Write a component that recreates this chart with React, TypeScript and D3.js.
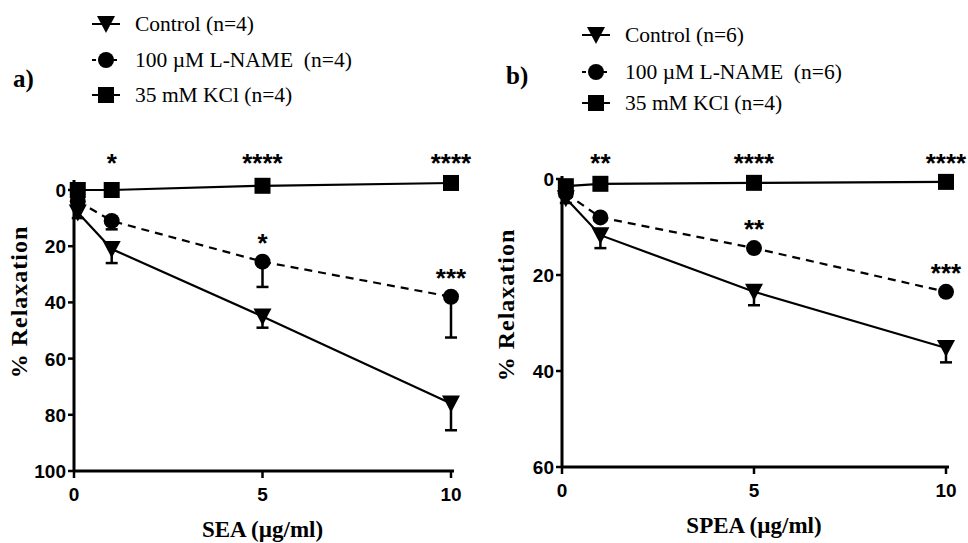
import * as d3 from 'd3';

// doses (µg/ml)
const doses = [0.1, 1, 5, 10];

// panel a - SEA
const seaControl = [8, 21, 45, 76];
const seaControlErr = [2, 5, 4, 9.5];
const seaLName = [4, 11, 25.5, 38];
const seaLNameErr = [2, 3, 9, 14.5];
const seaKcl = [0, 0, -1.5, -2.5];
const seaStarsTop = ['', '*', '****', '****'];
const seaStarsMid = ['', '', '*', '***'];
const seaYTicks = [0, 20, 40, 60, 80, 100];

// panel b - SPEA
const speaControl = [4, 11.7, 23.5, 35.2];
const speaControlErr = [1, 2.7, 2.8, 3];
const speaLName = [3, 8, 14.4, 23.5];
const speaLNameErr = [0.5, 0.5, 0.5, 0.5];
const speaKcl = [1.5, 1, 0.8, 0.6];
const speaStarsTop = ['', '**', '****', '****'];
const speaStarsMid = ['', '', '**', '***'];
const speaYTicks = [0, 20, 40, 60];

const xTicks = [0, 5, 10];
const serif = '"Liberation Serif", "Times New Roman", serif';
const sans = '"Liberation Sans", Arial, sans-serif';

function Marker({ kind, cx, cy }) {
    if (kind === 'square') return <rect x={cx - 8} y={cy - 8} width={16} height={16} fill="#000" />;
    if (kind === 'circle') return <circle cx={cx} cy={cy} r={8} fill="#000" />;
    return <path d={`M${cx - 9},${cy - 8}L${cx + 9},${cy - 8}L${cx},${cy + 9}Z`} fill="#000" />;
}

function Panel({ label, labelX, labelY, legend, left, right, top, bottom, axisOver, yMax, yTicks, control, controlErr, lname, lnameErr, kcl, starsTop, starsMid, starsTopY, xTitle, yTitleX, yTitleY }) {
    const x = d3.scaleLinear([0, 10], [left, right]);
    const y = d3.scaleLinear([0, yMax], [top, bottom]);
    const line = d3.line().x((d) => x(d[0])).y((d) => y(d[1]));

    const series = [
        { vals: control, err: controlErr, kind: 'triangle', dash: null },
        { vals: lname, err: lnameErr, kind: 'circle', dash: '8,6' },
        { vals: kcl, err: null, kind: 'square', dash: null },
    ];

    return (
        <g>
            <text x={labelX} y={labelY} fontFamily={serif} fontWeight="bold" fontSize={25}>{label}</text>
            {legend.map((l, i) => (
                <g key={i}>
                    <line x1={l.mx - 14} x2={l.mx + 14} y1={l.y} y2={l.y} stroke="#000" strokeWidth={2} strokeDasharray={i === 1 ? '4,3' : null} />
                    <Marker kind={series[i].kind} cx={l.mx} cy={l.y} />
                    <text x={l.mx + 29} y={l.y + 7} fontFamily={serif} fontSize={21.5} style={{ whiteSpace: 'pre' }}>{l.text}</text>
                </g>
            ))}

            {/* axes */}
            <line x1={left} x2={left} y1={top - axisOver} y2={bottom} stroke="#000" strokeWidth={3} />
            <line x1={left} x2={right + 3} y1={bottom} y2={bottom} stroke="#000" strokeWidth={3} />
            {yTicks.map((t) => (
                <g key={t}>
                    <line x1={left - 6} x2={left} y1={y(t)} y2={y(t)} stroke="#000" strokeWidth={2.5} />
                    <text x={left - 8} y={y(t) + 7} textAnchor="end" fontFamily={sans} fontWeight="bold" fontSize={19}>{t}</text>
                </g>
            ))}
            {xTicks.map((t) => (
                <g key={t}>
                    <line x1={x(t)} x2={x(t)} y1={bottom} y2={bottom + 7} stroke="#000" strokeWidth={2.5} />
                    <text x={x(t)} y={bottom + 30} textAnchor="middle" fontFamily={sans} fontWeight="bold" fontSize={19}>{t}</text>
                </g>
            ))}
            <text x={(left + right) / 2} y={bottom + 66} textAnchor="middle" fontFamily={serif} fontWeight="bold" fontSize={23}>{xTitle}</text>
            <text transform={`translate(${yTitleX},${yTitleY}) rotate(-90)`} textAnchor="middle" fontFamily={serif} fontWeight="bold" fontSize={24} letterSpacing={1}>% Relaxation</text>

            {series.map((s, si) => (
                <g key={si}>
                    <path d={line(doses.map((d, i) => [d, s.vals[i]]))} fill="none" stroke="#000" strokeWidth={2.2} strokeDasharray={s.dash} />
                    {s.err && doses.map((d, i) => (
                        <g key={i} stroke="#000" strokeWidth={2.5}>
                            <line x1={x(d)} x2={x(d)} y1={y(s.vals[i])} y2={y(s.vals[i] + s.err[i])} />
                            <line x1={x(d) - 6} x2={x(d) + 6} y1={y(s.vals[i] + s.err[i])} y2={y(s.vals[i] + s.err[i])} />
                        </g>
                    ))}
                    {doses.map((d, i) => <Marker key={i} kind={s.kind} cx={x(d)} cy={y(s.vals[i])} />)}
                </g>
            ))}

            {doses.map((d, i) => (
                <g key={i} fontFamily={sans} fontWeight="bold" fontSize={26} textAnchor="middle">
                    <text x={x(d)} y={starsTopY}>{starsTop[i]}</text>
                    <text x={x(d)} y={y(lname[i]) - 10}>{starsMid[i]}</text>
                </g>
            ))}
        </g>
    );
}

export default function App() {
    return (
        <svg width={968} height={543} style={{ position: 'absolute', left: 0, top: 0, background: '#fff' }}>
            <Panel
                label="a)" labelX={13} labelY={87}
                legend={[
                    { mx: 106, y: 24, text: 'Control (n=4)' },
                    { mx: 106, y: 60, text: '100 µM L-NAME  (n=4)' },
                    { mx: 106, y: 95, text: '35 mM KCl (n=4)' },
                ]}
                left={74} right={451} top={190} bottom={471} axisOver={10} yMax={100} yTicks={seaYTicks}
                control={seaControl} controlErr={seaControlErr}
                lname={seaLName} lnameErr={seaLNameErr} kcl={seaKcl}
                starsTop={seaStarsTop} starsMid={seaStarsMid} starsTopY={172}
                xTitle="SEA (µg/ml)" yTitleX={27} yTitleY={302}
            />
            <Panel
                label="b)" labelX={506} labelY={84}
                legend={[
                    { mx: 596, y: 35, text: 'Control (n=6)' },
                    { mx: 596, y: 72, text: '100 µM L-NAME  (n=6)' },
                    { mx: 596, y: 103, text: '35 mM KCl (n=4)' },
                ]}
                left={562} right={946} top={179} bottom={467} axisOver={3} yMax={60} yTicks={speaYTicks}
                control={speaControl} controlErr={speaControlErr}
                lname={speaLName} lnameErr={speaLNameErr} kcl={speaKcl}
                starsTop={speaStarsTop} starsMid={speaStarsMid} starsTopY={172}
                xTitle="SPEA (µg/ml)" yTitleX={514} yTitleY={305}
            />
        </svg>
    );
}
